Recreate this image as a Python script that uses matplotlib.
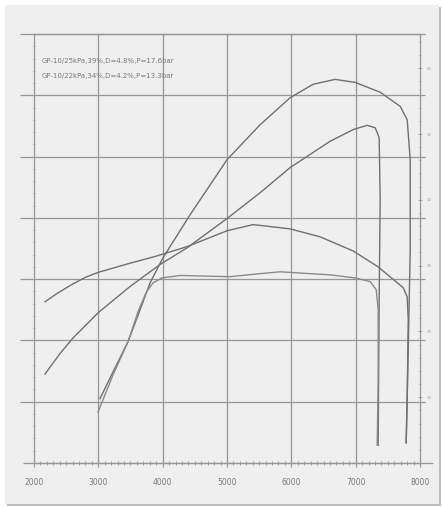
import matplotlib
matplotlib.use("Agg")
import matplotlib.pyplot as plt
from matplotlib.patches import Rectangle
from matplotlib.ticker import MultipleLocator

# engine speed (rpm) and readings for the four traces
rpm_power_1 = [3026, 3244, 3462, 3649, 3804, 4006, 4426, 5001, 5515, 5981, 6339,
               6681, 6992, 7381, 7692, 7801, 7848, 7848, 7817, 7785]
power_1 = [10.5, 15.2, 19.8, 25.0, 29.4, 33.5, 40.5, 49.5, 55.2, 59.6, 61.8,
           62.6, 62.1, 60.5, 58.2, 56.0, 49.5, 34.8, 18.5, 3.3]

rpm_torque_1 = [2171, 2350, 2600, 2800, 2995, 3493, 3882, 4379, 5001, 5406, 5981,
                6448, 6961, 7350, 7614, 7739, 7801, 7817, 7801, 7785]
torque_1 = [26.3, 27.6, 29.2, 30.3, 31.1, 32.6, 33.7, 35.3, 37.9, 38.9, 38.2,
            36.9, 34.6, 32.0, 29.7, 28.6, 27.1, 23.4, 10.3, 3.3]

rpm_power_2 = [2171, 2400, 2607, 2995, 3493, 3960, 4379, 5001, 5515, 5981, 6603,
               6961, 7179, 7303, 7365, 7381, 7365, 7350]
power_2 = [14.5, 17.8, 20.4, 24.5, 28.8, 32.4, 35.1, 39.9, 44.1, 48.2, 52.5,
           54.4, 55.1, 54.7, 53.1, 43.0, 26.6, 2.9]

rpm_torque_2 = [2995, 3229, 3462, 3617, 3742, 3851, 3991, 4271, 5048, 5515, 5826,
                6137, 6603, 6992, 7225, 7319, 7350, 7350, 7334]
torque_2 = [8.3, 14.4, 19.8, 24.7, 27.8, 29.4, 30.2, 30.6, 30.4, 30.9, 31.2,
            31.0, 30.7, 30.2, 29.6, 28.3, 25.0, 13.6, 2.9]

legend_lines = ["GP-10/25kPa,39%,D=4.8%,P=17.6bar",
                "GP-10/22kPa,34%,D=4.2%,P=13.3bar"]
x_ticks = [2000, 3000, 4000, 5000, 6000, 7000, 8000]
right_ticks = [10, 20, 30, 40, 50, 60]

line_col = "#707070"
grid_col = "#969696"

fig = plt.figure(figsize=(4.42, 5.07), dpi=100, facecolor="white")

# framed panel with a soft shadow, drawn in a background axes
bg = fig.add_axes([0, 0, 1, 1], zorder=-10)
bg.set_xlim(0, 442)
bg.set_ylim(507, 0)
bg.axis("off")
bg.add_patch(Rectangle((7, 7), 434, 499, facecolor="#bdbdbd", edgecolor="none"))
bg.add_patch(Rectangle((5, 5), 434, 499, facecolor="#efefef", edgecolor="none"))

ax = fig.add_axes([34 / 442, 1 - 463 / 507, 386 / 442, 429 / 507])
ax.set_facecolor("none")
ax.set_xlim(2000, 8000)
ax.set_ylim(0, 70)

# grid: horizontal lines run a little past the frame
for yv in range(0, 71, 10):
    x_end = 1.034 if yv == 0 else 1.013
    x_start = -0.028 if yv == 0 else -0.036
    ax.hlines(yv, x_start, x_end, transform=ax.get_yaxis_transform(),
              color=grid_col, lw=0.9, clip_on=False, zorder=1)
for xv in x_ticks[1:-1]:
    ax.axvline(xv, color=grid_col, lw=0.9, zorder=1)

for sp in ax.spines.values():
    sp.set_color(grid_col)
    sp.set_linewidth(0.9)

ax.plot(rpm_power_1, power_1, color=line_col, lw=1.0, zorder=3)
ax.plot(rpm_torque_1, torque_1, color=line_col, lw=1.0, zorder=3)
ax.plot(rpm_power_2, power_2, color=line_col, lw=1.0, zorder=3)
ax.plot(rpm_torque_2, torque_2, color="#8a8a8a", lw=1.0, zorder=3)

ax.set_xticks(x_ticks)
ax.xaxis.set_minor_locator(MultipleLocator(100))
ax.tick_params(axis="x", which="major", length=6, width=0.8, color=grid_col,
               labelsize=5.5, labelcolor="#7a7a7a", pad=8, direction="inout")
ax.tick_params(axis="x", which="minor", length=3, width=0.6, color=grid_col,
               direction="inout")
ax.set_yticks(range(0, 71, 10))
ax.set_yticklabels([])
ax.yaxis.set_minor_locator(MultipleLocator(2))
ax.tick_params(axis="y", which="both", length=2, width=0.6, color=grid_col,
               direction="inout")

ax2 = ax.twinx()
ax2.set_ylim(0, 65.2)
ax2.set_yticks(right_ticks)
ax2.yaxis.set_minor_locator(MultipleLocator(2))
ax2.tick_params(axis="y", which="major", length=3, width=0.6, color=grid_col,
                labelsize=3, labelcolor="#aaaaaa", direction="inout")
ax2.tick_params(axis="y", which="minor", length=2, width=0.6, color=grid_col,
                direction="inout")
for sp in ax2.spines.values():
    sp.set_visible(False)

for i, txt in enumerate(legend_lines):
    ax.text(2120, 65.6 - i * 2.5, txt, fontsize=5.0, color="#7a7a7a",
            va="center", ha="left", zorder=4)

fig.savefig("out.png", dpi=100, facecolor=fig.get_facecolor())
